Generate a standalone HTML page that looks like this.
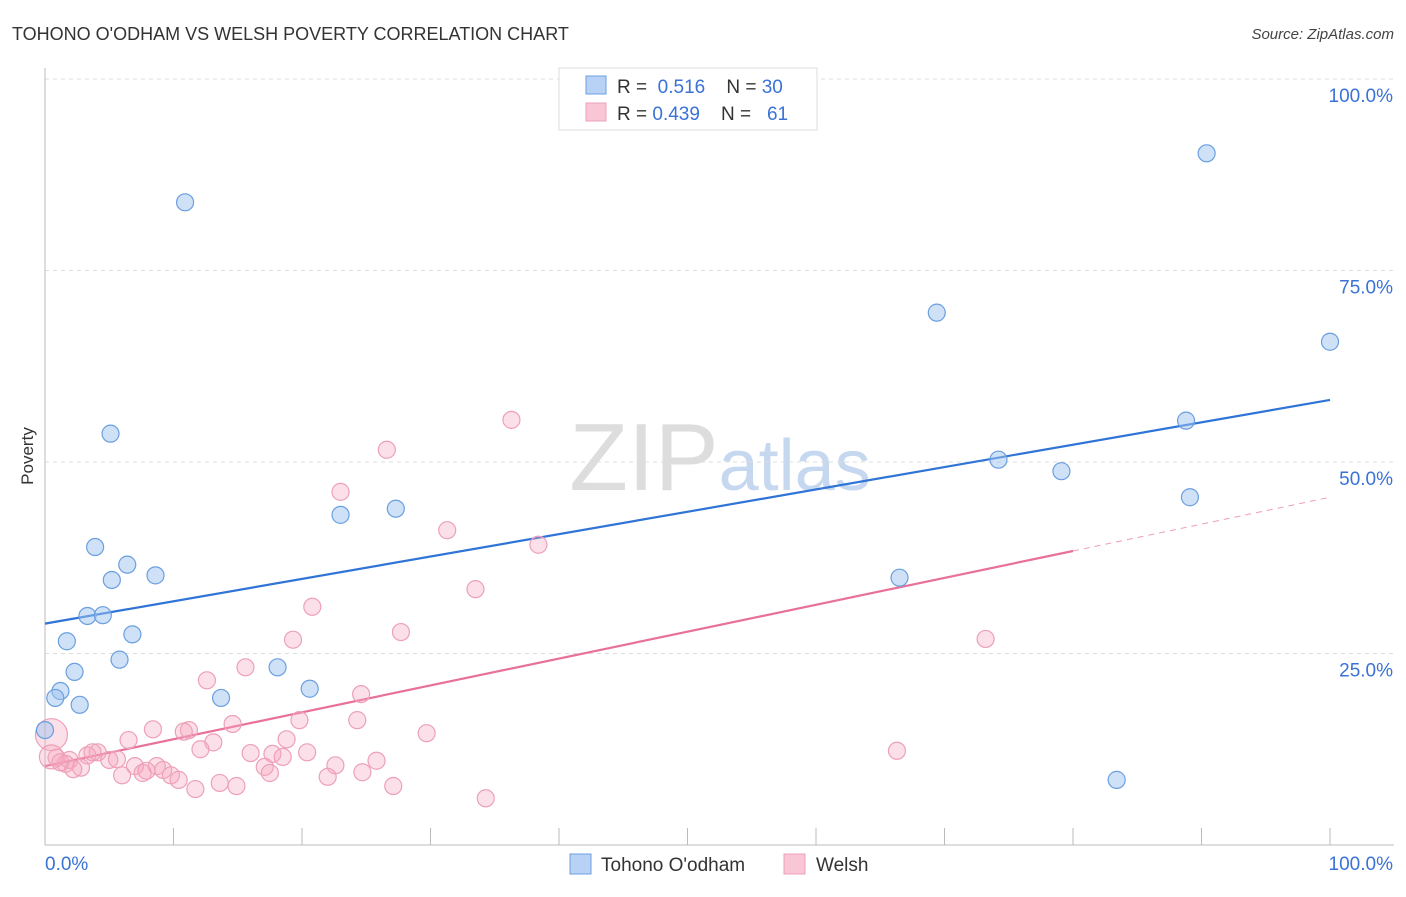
<!DOCTYPE html>
<html><head><meta charset="utf-8"><style>
body{margin:0;background:#fff;font-family:"Liberation Sans",sans-serif;}
svg text{font-family:"Liberation Sans",sans-serif;}
</style></head><body>
<svg id="chart" width="1406" height="892" xmlns="http://www.w3.org/2000/svg">
<text x="12" y="40" font-size="18" fill="#333">TOHONO O'ODHAM VS WELSH POVERTY CORRELATION CHART</text>
<text x="1394" y="39" font-size="15" fill="#444" font-style="italic" text-anchor="end">Source: ZipAtlas.com</text>
<text x="720" y="490" font-size="96" fill="#ddd" text-anchor="middle" font-family="Liberation Serif">ZIP<tspan fill="#c6d8ef" font-family="Liberation Sans" font-size="72">atlas</tspan></text>
<text transform="translate(33,456) rotate(-90)" font-size="17" fill="#333" text-anchor="middle">Poverty</text>
<g id="grid"></g><g id="axes"></g><g id="lines"></g><g id="points"></g>
<g>
<rect x="559" y="68" width="258" height="62" fill="#fff" stroke="#ddd"/>
<rect x="586" y="76" width="20" height="18" fill="#b7d2f5" stroke="#6a9fdf"/>
<rect x="586" y="103" width="20" height="18" fill="#f9c6d6" stroke="#eda0b8"/>
<text x="617" y="93" font-size="19" fill="#333">R = <tspan fill="#3a72d6">&#160;0.516</tspan>&#160;&#160;&#160;&#160;N = <tspan fill="#3a72d6">30</tspan></text>
<text x="617" y="120" font-size="19" fill="#333">R = <tspan fill="#3a72d6">0.439</tspan>&#160;&#160;&#160;&#160;N = <tspan fill="#3a72d6">&#160;&#160;61</tspan></text>
</g>
<g>
<rect x="570" y="854" width="21" height="20" fill="#b7d2f5" stroke="#6a9fdf"/>
<text x="601" y="871" font-size="19" fill="#333">Tohono O'odham</text>
<rect x="784" y="854" width="21" height="20" fill="#f9c6d6" stroke="#eda0b8"/>
<text x="816" y="871" font-size="19" fill="#333">Welsh</text>
</g>
</svg>
<script>
const yTicks=[25,50,75,100];
const yTickLabels=["25.0%","50.0%","75.0%","100.0%"];
const xTicks=[0,10,20,30,40,50,60,70,80,90,100];
const blueX=[10.9,5.1,3.9,6.4,8.6,5.2,3.3,4.5,6.8,1.7,5.8,2.3,1.2,0.8,2.7,0,13.7,18.1,20.6,23.0,27.3,69.4,90.4,100,88.8,74.2,79.1,89.1,66.5,83.4];
const blueY=[83.9,53.7,38.9,36.6,35.2,34.6,29.9,30.0,27.5,26.6,24.2,22.6,20.1,19.2,18.3,15.0,19.2,23.2,20.4,43.1,43.9,69.5,90.3,65.7,55.4,50.3,48.8,45.4,34.9,8.5];
const pinkX=[36.3,26.6,23.0,31.3,38.4,33.5,20.8,27.7,19.3,73.2,15.6,12.6,24.6,19.8,24.3,14.6,8.4,11.2,10.8,6.5,13.1,18.8,29.7,66.3,4.1,12.1,16.0,20.4,3.3,3.7,5.0,5.6,1.9,0.9,1.6,25.8,17.7,18.5,22.6,7.0,8.7,9.2,2.8,2.2,17.1,24.7,7.6,7.9,9.8,10.4,6.0,22.0,17.5,13.6,11.7,14.9,27.1,34.3,0.5,0.5,1.2];
const pinkY=[55.5,51.6,46.1,41.1,39.2,33.4,31.1,27.8,26.8,26.9,23.2,21.5,19.7,16.3,16.3,15.8,15.1,15.0,14.8,13.7,13.4,13.8,14.6,12.3,12.1,12.5,12.0,12.1,11.7,12.1,11.1,11.2,11.1,11.4,10.6,11.0,11.9,11.5,10.4,10.3,10.3,9.8,10.1,9.9,10.2,9.5,9.4,9.7,9.1,8.5,9.1,8.9,9.4,8.1,7.3,7.7,7.7,6.1,14.4,11.5,10.8];
const pinkR=pinkX.map((v,i)=>i===58?16:(i===59?12:8.5));
const blueFit=[28.9,58.1];
const pinkFit=[10.3,45.4];
const pinkSolidEnd=80;
const NS="http://www.w3.org/2000/svg";
const X=v=>45+v*12.85, Y=v=>845-v*7.66;
function mk(t,a,p){const e=document.createElementNS(NS,t);for(const k in a)e.setAttribute(k,a[k]);document.getElementById(p).appendChild(e);return e;}
yTicks.forEach((t,i)=>{
 const l=mk('line',{x1:45,x2:1394,y1:Y(t),y2:Y(t),stroke:'#ddd','stroke-dasharray':'4,4'},'grid');
 
 
 const tx=mk('text',{x:1393,y:Y(t)+23,'font-size':19,fill:'#3a72d6','text-anchor':'end'},'grid');
 tx.textContent=yTickLabels[i];
 
 
});
const ax=mk('line',{x1:45,x2:45,y1:68,y2:845,stroke:'#bbb'},'axes');


const bx=mk('line',{x1:45,x2:1394,y1:845,y2:845,stroke:'#bbb'},'axes');


xTicks.forEach(t=>{
 const l=mk('line',{x1:X(t),x2:X(t),y1:828,y2:845,stroke:'#bbb'},'axes');
 
 
});
const x0=mk('text',{x:45,y:870,'font-size':19,fill:'#3a72d6'},'axes');x0.textContent='0.0%';


const x1=mk('text',{x:1393,y:870,'font-size':19,fill:'#3a72d6','text-anchor':'end'},'axes');x1.textContent='100.0%';


const pf=v=>pinkFit[0]+(pinkFit[1]-pinkFit[0])*v/100;
pinkX.forEach((x,i)=>{
 const c=mk('circle',{cx:X(x),cy:Y(pinkY[i]),r:pinkR[i],fill:'rgba(245,165,192,0.35)',stroke:'#eda0b8','stroke-width':1.2},'points');
 
 
});
blueX.forEach((x,i)=>{
 const c=mk('circle',{cx:X(x),cy:Y(blueY[i]),r:8.5,fill:'rgba(160,196,240,0.5)',stroke:'#6a9fdf','stroke-width':1.2},'points');
 
 
});
const bl=mk('line',{x1:X(0),y1:Y(blueFit[0]),x2:X(100),y2:Y(blueFit[1]),stroke:'#2f74d6','stroke-width':2.2},'lines');


const pl=mk('line',{x1:X(0),y1:Y(pf(0)),x2:X(pinkSolidEnd),y2:Y(pf(pinkSolidEnd)),stroke:'#e8709a','stroke-width':2.2},'lines');


const pd=mk('line',{x1:X(pinkSolidEnd),y1:Y(pf(pinkSolidEnd)),x2:X(100),y2:Y(pf(100)),stroke:'#eda0b8','stroke-width':1,'stroke-dasharray':'6,5'},'lines');


</script>
</body></html>
